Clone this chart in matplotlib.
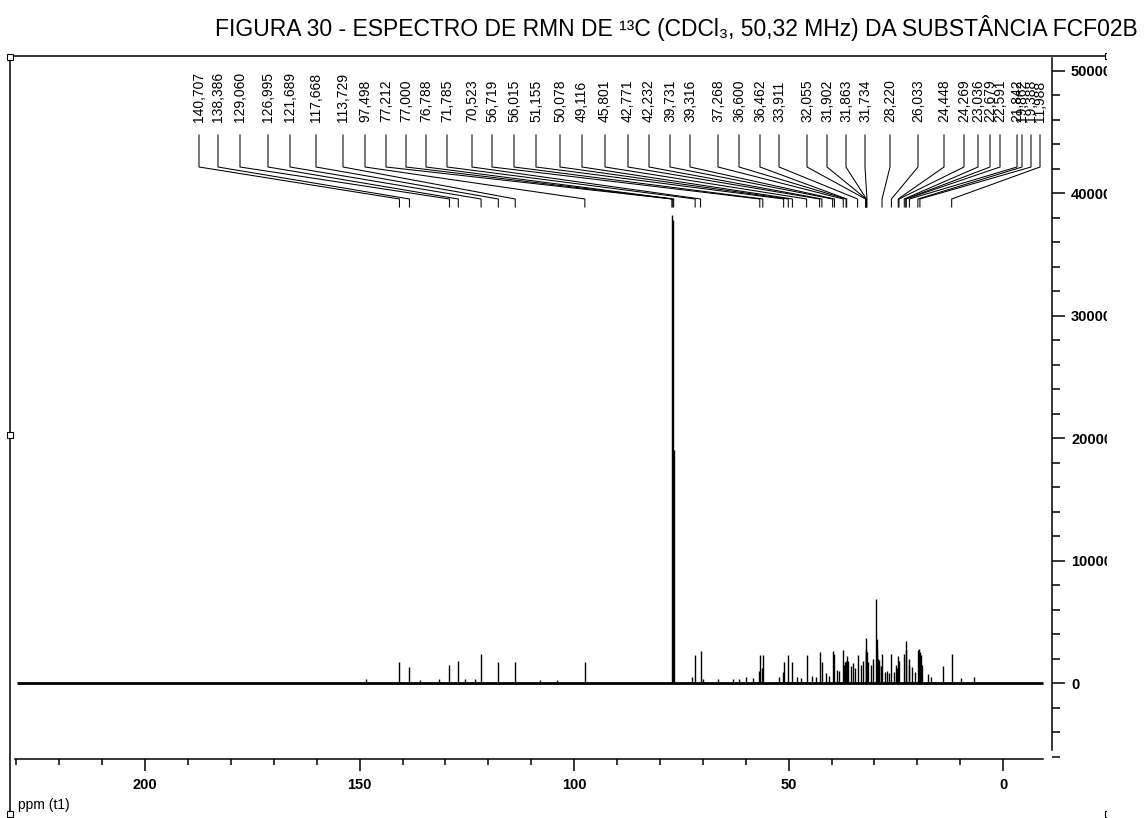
import numpy as np
import matplotlib
matplotlib.use('Agg')
import matplotlib.pyplot as plt
from matplotlib.lines import Line2D
from matplotlib.patches import Rectangle
from matplotlib.ticker import MultipleLocator, FixedLocator
from matplotlib import font_manager

# labelled peaks: shift (ppm), label text and height
peak_ppm = [140.707, 138.386, 129.060, 126.995, 121.689, 117.668, 113.729, 97.498,
            77.212, 77.000, 76.788, 71.785, 70.523, 56.719, 56.015, 51.155, 50.078,
            49.116, 45.801, 42.771, 42.232, 39.731, 39.316, 37.268, 36.600, 36.462,
            33.911, 32.055, 31.902, 31.863, 31.734, 28.220, 26.033, 24.448, 24.269,
            23.036, 22.679, 22.591, 21.842, 19.862, 19.388, 11.988]
peak_height = [1700, 1300, 1500, 1800, 2400, 1700, 1700, 1700,
               38200, 37800, 19000, 2300, 2600, 2300, 2300, 1700, 2300,
               1700, 2300, 2500, 1700, 2600, 2400, 2700, 1800, 2200,
               2300, 2600, 3700, 2800, 2500, 2400, 2400, 2200, 1800,
               2400, 3400, 2700, 2000, 2700, 2500, 2400]
peak_text = ['%.3f' % v for v in peak_ppm]
peak_text = [t.replace('.', ',') for t in peak_text]

# unlabelled lines of the spectrum
minor_ppm = [148.5, 136.0, 131.5, 125.5, 123.0, 108.0, 104.0,
             72.6, 69.9, 66.5, 63.0, 61.6, 59.9, 58.4, 57.0, 56.3, 52.2, 51.3,
             48.0, 47.0, 44.5, 43.5, 41.2, 40.5, 38.8, 38.2, 37.0, 36.9, 36.2,
             35.5, 35.0, 34.6, 33.2, 32.7, 31.5, 30.8, 30.3, 29.7, 29.5, 29.4,
             29.2, 29.0, 28.9, 28.5, 27.5, 27.0, 26.5, 25.4, 25.0, 24.8, 22.0,
             21.3, 20.5, 19.7, 19.1, 18.8, 17.5, 16.8, 14.0, 9.8, 6.7]
minor_height = [300, 250, 300, 350, 300, 250, 250,
                500, 300, 300, 300, 350, 450, 400, 1000, 1200, 500, 900,
                500, 400, 600, 500, 800, 600, 1100, 1000, 1500, 1700, 1800,
                1400, 1600, 1200, 1500, 1800, 1700, 1500, 2000, 6860, 3600, 2700,
                2000, 1900, 1500, 1400, 900, 1000, 800, 900, 1500, 1200, 1500,
                1300, 900, 2750, 2300, 1500, 700, 500, 1350, 400, 450]

x_ticks = [200, 150, 100, 50, 0]
y_ticks = [0, 10000, 20000, 30000, 40000, 50000]

# where the software put the peak labels (figure pixels from the left)
label_px = [199, 218, 240, 268, 290, 316, 343, 365, 386, 406, 426, 447, 472, 492,
            514, 536, 560, 582, 605, 628, 649, 670, 690, 718, 739, 760, 779, 807, 827,
            846, 865, 890, 918, 944, 964, 978, 990, 1000, 1017, 1022, 1031, 1040]

W, H = 1144, 818
def fx(p):
    return p / W
def fy(p):
    return 1 - p / H

font = 'Liberation Sans'
fig = plt.figure(figsize=(W / 100, H / 100), dpi=100)
plt.rcParams['font.family'] = [font, 'DejaVu Sans']

ax = fig.add_axes([fx(10), fy(759), fx(1052) - fx(10), fy(56) - fy(759)])
ax.set_xlim(231.5, -11.4)
ax.set_ylim(-6204, 51184)

ax.hlines(0, 229.8, -9.3, color='black', lw=2.0)
ax.vlines(minor_ppm, 0, minor_height, color='black', lw=1.0)
ax.vlines(peak_ppm, 0, peak_height, color='black', lw=1.0)

for s in ['top', 'left']:
    ax.spines[s].set_visible(False)
ax.spines['bottom'].set_bounds(230.3, -9.3)
ax.spines['right'].set_bounds(-5500, 51000)
ax.spines['bottom'].set_linewidth(1.1)
ax.spines['right'].set_linewidth(1.1)

ax.set_xticks(x_ticks)
ax.set_xticklabels([str(t) for t in x_ticks])
ax.xaxis.set_minor_locator(FixedLocator(np.arange(230, -1, -10)))
ax.yaxis.tick_right()
ax.set_yticks(y_ticks)
ax.set_yticklabels([str(t) for t in y_ticks])
ax.yaxis.set_minor_locator(MultipleLocator(2000))
ax.tick_params(axis='x', which='major', direction='out', length=8.6, width=1.1,
               pad=5, labelsize=10.5)
ax.tick_params(axis='x', which='minor', direction='out', length=4.3, width=1.1)
ax.tick_params(axis='y', which='major', direction='out', length=9.4, width=1.1,
               pad=4.3, labelsize=10.5, right=True, left=False)
ax.tick_params(axis='y', which='minor', direction='out', length=5.5, width=1.1,
               right=True, left=False)
for lbl in ax.get_xticklabels() + ax.get_yticklabels():
    lbl.set_fontweight('bold')

# peak labels and their leader lines
for lx, ppm, txt in zip(label_px, peak_ppm, peak_text):
    px = ax.transData.transform((ppm, 0))[0]
    fig.text(fx(lx), fy(122), txt, rotation=90, ha='center', va='bottom',
             fontsize=10)
    fig.add_artist(Line2D([fx(lx), fx(lx), fx(px), fx(px)],
                          [fy(135), fy(167), fy(199), fy(207)],
                          transform=fig.transFigure, color='black', lw=0.75))

# frame of the spectrum window
fig.add_artist(Line2D([fx(10), fx(1108)], [fy(56), fy(56)],
                      transform=fig.transFigure, color='black', lw=1.1))
fig.add_artist(Line2D([fx(10), fx(10)], [fy(56), fy(815)],
                      transform=fig.transFigure, color='black', lw=1.1))
for (sx, sy) in [(10, 57), (10, 435), (10, 814), (1108, 56), (1108, 814)]:
    fig.add_artist(Rectangle((fx(sx - 3), fy(sy + 3)), fx(6), 6 / H,
                             transform=fig.transFigure, facecolor='white',
                             edgecolor='black', lw=0.8, zorder=4))
# the picture is cut at the right
fig.add_artist(Rectangle((fx(1107), 0), 1 - fx(1107), fy(44),
                         transform=fig.transFigure, facecolor='white',
                         edgecolor='none', zorder=5))

fig.text(fx(18), fy(805), 'ppm (t1)', ha='left', va='center', fontsize=10)

# title in a narrow face, fitted to the width it has in the picture
try:
    font_manager.findfont(font_manager.FontProperties(family='Liberation Sans Narrow'),
                          fallback_to_default=False)
    tfam = ['Liberation Sans Narrow', 'DejaVu Sans']
except Exception:
    tfam = ['Liberation Sans', 'DejaVu Sans']
title = fig.text(fx(676), fy(28), 'FIGURA 30 - ESPECTRO DE RMN DE \u00b9\u00b3C (CDCl\u2083, 50,32 MHz) DA SUBST\u00c2NCIA FCF02B',
                 ha='center', va='center', fontsize=16, family=tfam, zorder=6)
r = fig.canvas.get_renderer()
w = title.get_window_extent(r).width
title.set_fontsize(16 * 926 / w)

fig.savefig('out.png', dpi=100)
